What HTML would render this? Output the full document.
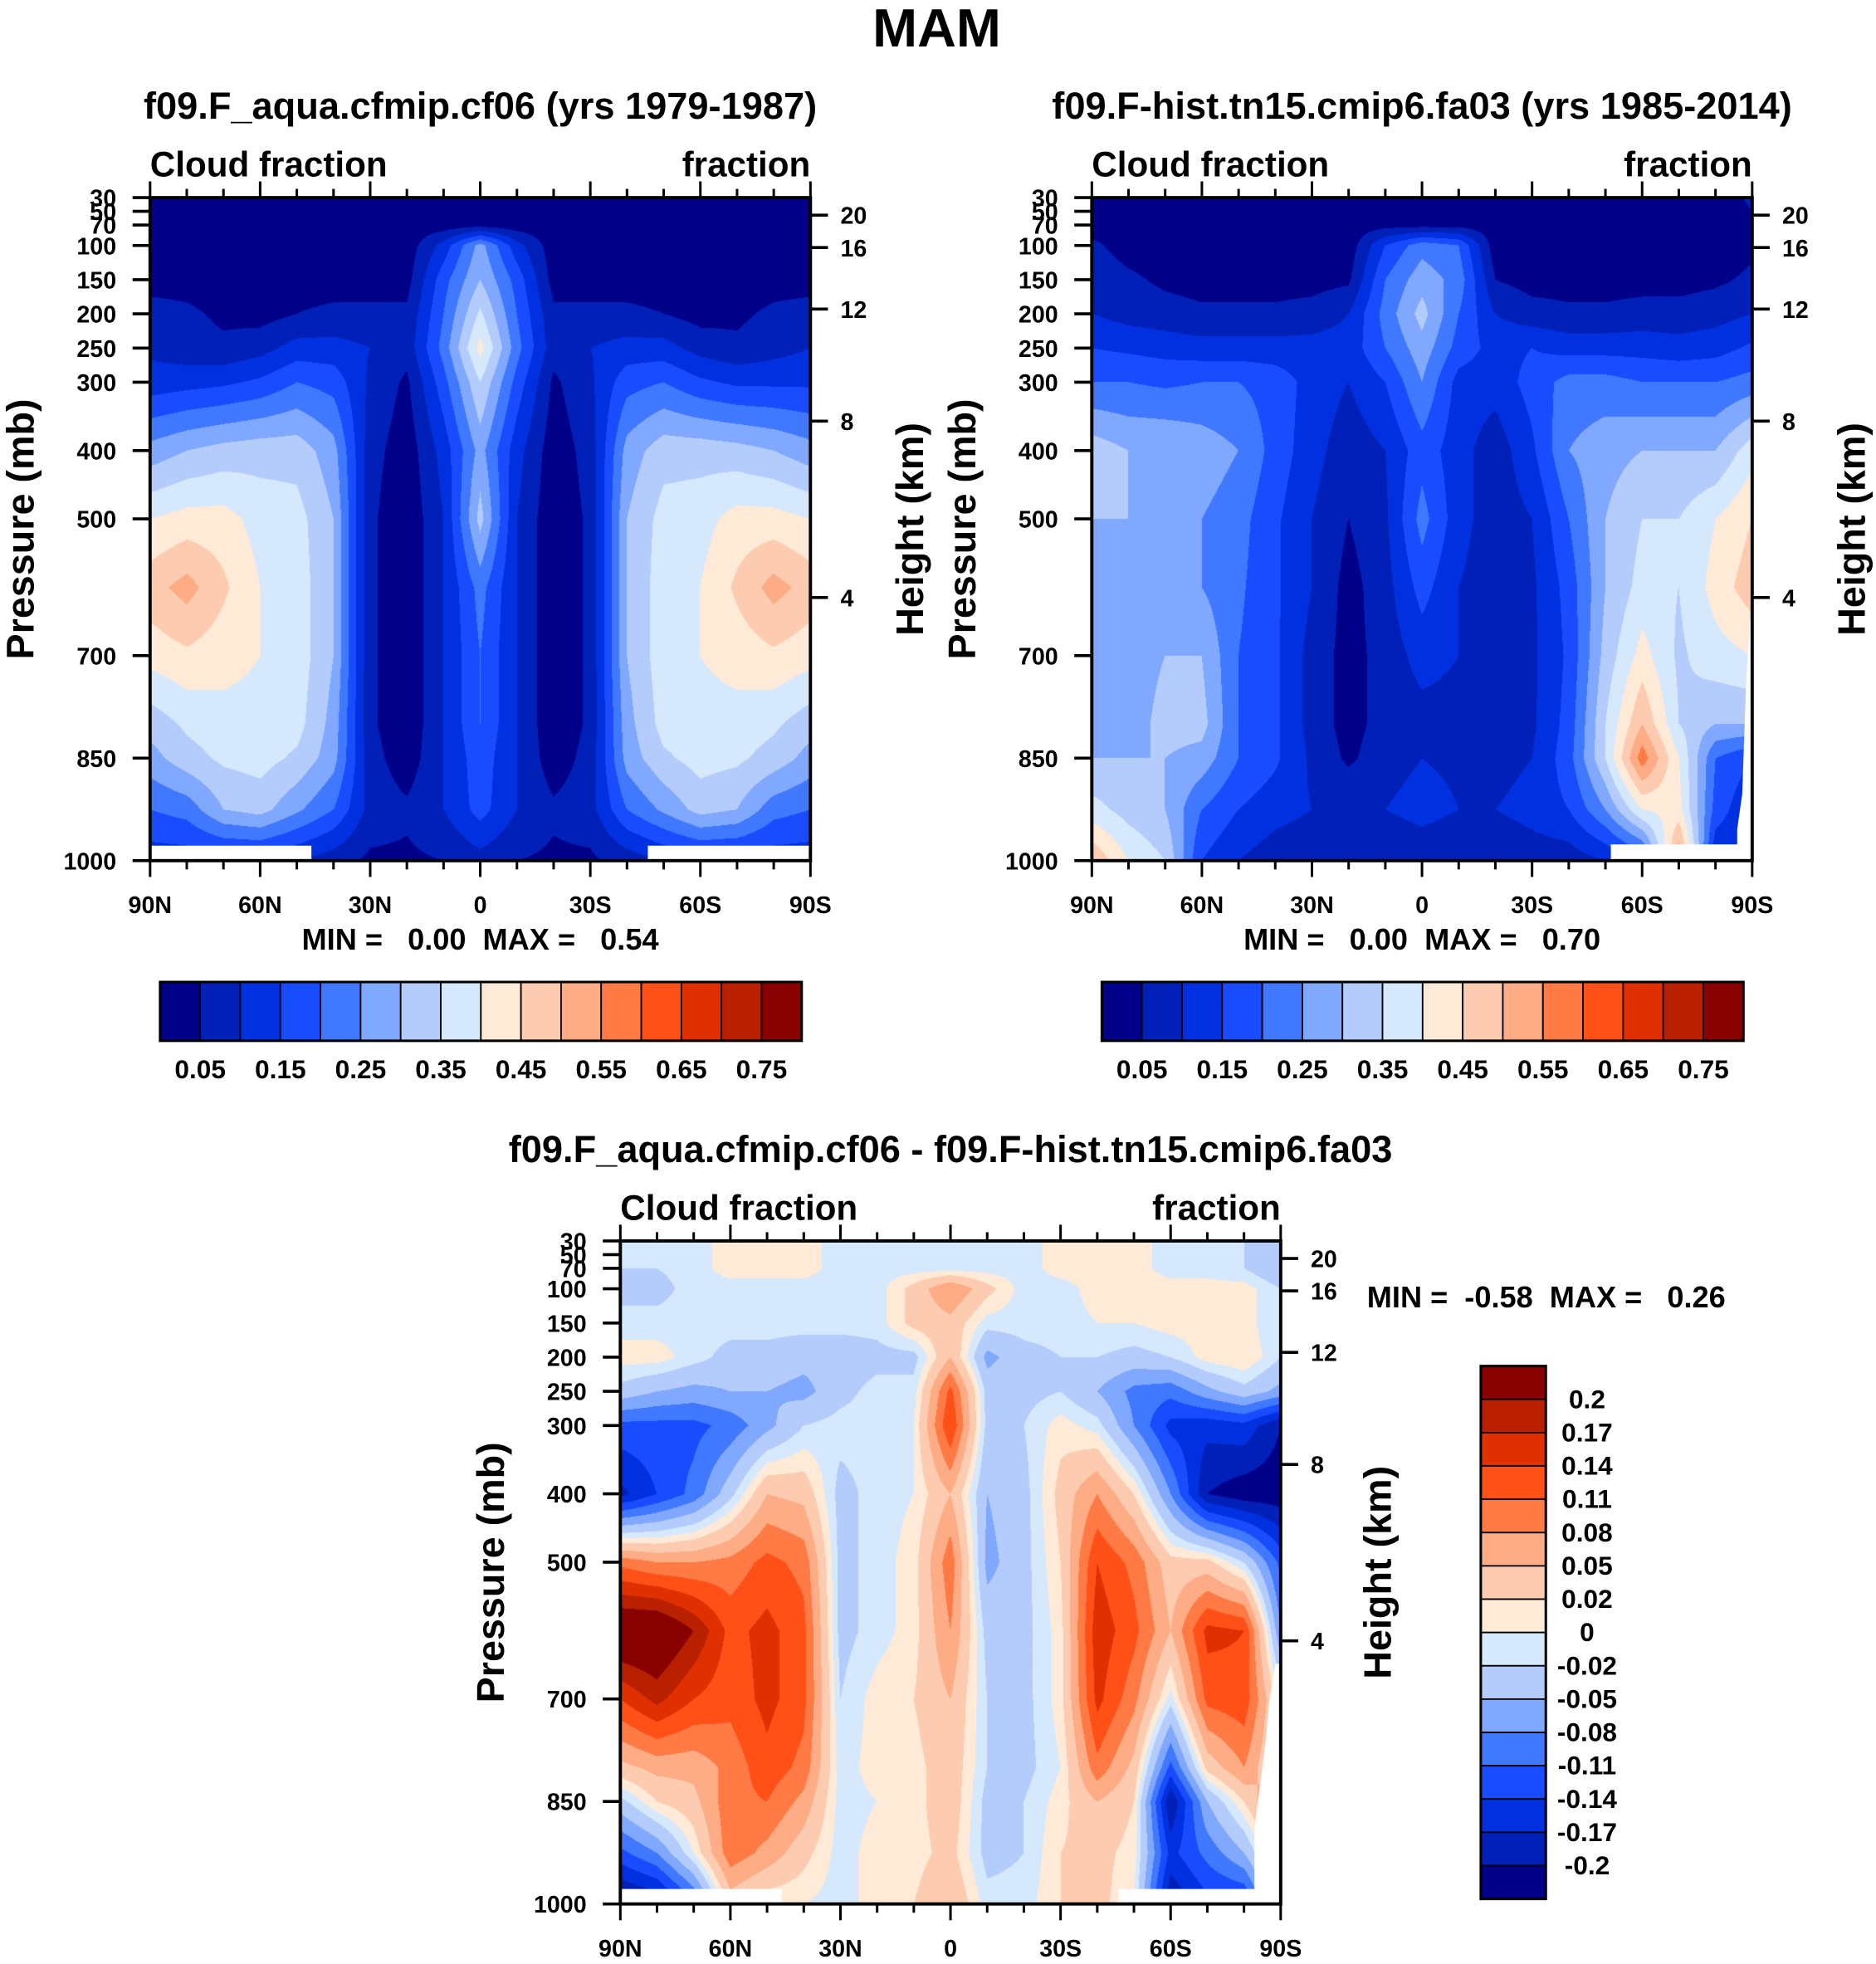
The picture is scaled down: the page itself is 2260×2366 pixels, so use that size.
<!DOCTYPE html>
<html><head><meta charset="utf-8">
<style>
html,body{margin:0;padding:0;background:#fff;}
#wrap{position:relative;width:2260px;height:2366px;overflow:hidden;}
#cv{position:absolute;left:0;top:0;}
#sv{position:absolute;left:0;top:0;}
text{font-family:"Liberation Sans",Arial,sans-serif;font-weight:bold;fill:#000;}
</style></head>
<body>
<div id="wrap">
<canvas id="cv" width="2260" height="2366"></canvas>
<svg id="sv" width="2260" height="2366" viewBox="0 0 1500 1570" preserveAspectRatio="none" xmlns="http://www.w3.org/2000/svg">
<g id="g"></g>
</svg>
</div>
<script>
// ---------- data ----------
const pLevels = [30,70,100,150,200,250,300,400,500,600,700,800,850,925,1000];
const latLabels = ['90N','60N','30N','0','30S','60S','90S'];
const pTickLabels = [30,50,70,100,150,200,250,300,400,500,700,850,1000];
const heightLabels = [20,16,12,8,4];
const heightP = [55.6,103,193,357,615];
const absLevels = [0.05,0.10,0.15,0.20,0.25,0.30,0.35,0.40,0.45,0.50,0.55,0.60,0.65,0.70,0.75];
const absTickLabels = ['0.05','0.15','0.25','0.35','0.45','0.55','0.65','0.75'];
const diffLevels = [-0.2,-0.17,-0.14,-0.11,-0.08,-0.05,-0.02,0,0.02,0.05,0.08,0.11,0.14,0.17,0.2];
const diffTickLabels = ['0.2','0.17','0.14','0.11','0.08','0.05','0.02','0','-0.02','-0.05','-0.08','-0.11','-0.14','-0.17','-0.2'];
const colors = ['#000088','#0020b8','#0030e0','#1a4cff','#4078ff','#80a8ff','#b4ccfc','#d6e8fc','#ffead8','#fdccb0','#fdac86','#ff7a44','#ff5018','#e03000','#b82000','#880000'];

// columns 90N -> 90S every 10 deg, values at pLevels
const cf06 = [
[.02,.02,.02,.03,.07,.09,.12,.27,.40,.48,.42,.32,.28,.20,.12],
[.02,.02,.02,.03,.06,.07,.13,.30,.42,.52,.44,.36,.33,.22,.12],
[.02,.02,.02,.02,.04,.06,.14,.32,.42,.46,.42,.38,.36,.30,.12],
[.02,.02,.02,.02,.03,.08,.16,.33,.38,.40,.40,.38,.37,.32,.12],
[.02,.02,.02,.03,.05,.12,.20,.33,.37,.38,.38,.37,.34,.26,.10],
[.02,.02,.02,.03,.06,.12,.18,.27,.30,.30,.30,.28,.27,.20,.07],
[.02,.02,.02,.03,.06,.10,.09,.07,.06,.06,.06,.06,.07,.08,.04],
[.02,.02,.02,.03,.06,.07,.04,.02,.01,.01,.01,.01,.02,.06,.04],
[.02,.02,.12,.18,.20,.22,.18,.12,.10,.10,.10,.10,.10,.10,.05],
[.02,.03,.27,.30,.36,.42,.35,.27,.32,.22,.20,.20,.18,.17,.08],
[.02,.02,.12,.18,.20,.22,.18,.12,.10,.10,.10,.10,.10,.10,.05],
[.02,.02,.02,.03,.06,.07,.04,.02,.01,.01,.01,.01,.02,.06,.04],
[.02,.02,.02,.03,.06,.10,.09,.07,.06,.06,.06,.06,.07,.08,.04],
[.02,.02,.02,.03,.06,.12,.18,.27,.30,.30,.30,.28,.27,.20,.07],
[.02,.02,.02,.03,.05,.12,.20,.33,.37,.38,.38,.37,.34,.26,.10],
[.02,.02,.02,.02,.03,.08,.16,.33,.38,.40,.40,.38,.37,.32,.12],
[.02,.02,.02,.02,.04,.06,.14,.32,.42,.46,.42,.38,.36,.30,.12],
[.02,.02,.02,.03,.06,.08,.14,.30,.42,.52,.44,.36,.33,.22,.12],
[.02,.02,.02,.03,.07,.10,.14,.27,.40,.48,.42,.32,.28,.20,.12]
];
const fa03 = [
[.02,.03,.06,.08,.10,.15,.20,.33,.30,.27,.27,.30,.30,.37,.50],
[.02,.02,.03,.06,.08,.14,.20,.30,.30,.27,.27,.27,.30,.33,.40],
[.02,.02,.02,.04,.07,.13,.19,.30,.28,.27,.30,.32,.30,.30,.35],
[.02,.02,.02,.03,.06,.12,.20,.28,.25,.25,.30,.32,.28,.20,.15],
[.02,.02,.02,.03,.06,.12,.20,.25,.22,.21,.20,.20,.20,.15,.10],
[.02,.02,.02,.03,.06,.12,.18,.18,.16,.16,.16,.16,.16,.12,.07],
[.02,.02,.02,.03,.07,.12,.13,.12,.10,.10,.08,.08,.09,.10,.06],
[.02,.02,.02,.04,.10,.12,.10,.07,.05,.03,.03,.03,.04,.10,.06],
[.02,.03,.15,.20,.22,.20,.15,.10,.09,.08,.07,.07,.08,.10,.05],
[.02,.03,.23,.28,.32,.28,.25,.18,.22,.17,.12,.08,.10,.12,.06],
[.02,.03,.20,.23,.20,.18,.13,.12,.12,.10,.10,.08,.09,.10,.05],
[.02,.02,.02,.05,.10,.13,.12,.07,.07,.07,.07,.07,.08,.10,.05],
[.02,.02,.02,.03,.07,.15,.17,.14,.10,.09,.09,.09,.10,.12,.07],
[.02,.02,.02,.03,.06,.13,.22,.25,.20,.17,.16,.17,.18,.15,.07],
[.02,.02,.02,.03,.06,.13,.22,.28,.30,.30,.32,.35,.35,.25,.10],
[.02,.02,.02,.03,.07,.13,.20,.30,.35,.37,.42,.50,.58,.40,.15],
[.02,.02,.02,.03,.07,.12,.20,.30,.35,.35,.34,.35,.40,.42,.55],
[.02,.02,.02,.04,.08,.13,.20,.30,.40,.42,.38,.30,.20,.18,.10],
[.06,.04,.04,.06,.10,.16,.22,.38,.45,.48,.40,.30,.15,.10,.10]
];
const diffData = [
[-.01,-.02,-.03,-.01,.01,-.03,-.12,-.18,.10,.25,.14,.04,-.03,-.12,-.22],
[-.01,-.02,-.03,-.01,.01,-.05,-.12,-.14,.08,.25,.18,.06,.02,-.08,-.20],
[-.01,-.01,-.01,-.01,-.01,-.06,-.12,-.10,.08,.20,.14,.06,.04,.00,-.12],
[.01,.01,-.01,-.01,-.03,-.05,-.10,-.03,.09,.13,.12,.09,.10,.10,.03],
[.01,.01,-.01,-.01,-.03,-.05,-.06,.05,.12,.15,.15,.13,.11,.07,.00],
[.01,.01,-.01,-.01,-.04,-.06,-.02,.04,.10,.12,.12,.10,.07,.03,.00],
[-.01,-.01,-.01,-.01,-.04,-.03,-.01,-.03,-.03,-.03,-.02,-.01,-.01,-.01,-.01],
[-.01,-.01,-.01,-.01,-.03,-.01,-.01,-.01,-.01,-.01,.01,.01,.00,.01,.01],
[-.01,-.01,.03,.03,-.03,-.01,.00,.00,.01,.01,.02,.01,.01,.01,.02],
[-.01,-.01,.08,.04,.05,.12,.14,.05,.10,.08,.05,.04,.04,.03,.05],
[-.01,-.01,.03,-.01,-.06,-.03,-.03,-.05,-.06,-.03,-.02,-.02,-.03,-.03,-.01],
[-.01,-.01,-.01,-.01,-.03,-.03,-.02,-.03,-.03,-.03,-.03,-.03,-.02,-.02,-.01],
[.01,.01,-.01,-.01,-.02,-.02,.01,.03,.02,.01,.01,.00,.01,.02,.02],
[.01,.01,.01,.00,-.02,-.05,-.01,.08,.14,.16,.15,.10,.05,.03,.03],
[.01,.01,.01,.00,-.03,-.09,-.08,.02,.10,.12,.09,.04,.02,.01,.00],
[-.01,-.01,.01,.01,-.02,-.10,-.15,-.08,.03,.05,-.01,-.12,-.20,-.15,-.20],
[-.01,-.01,.01,.01,.01,-.06,-.16,-.20,.03,.15,.12,.03,-.05,-.10,-.15],
[-.02,-.02,.01,.01,.02,-.03,-.15,-.22,-.02,.14,.13,.08,.02,-.05,-.15],
[-.03,-.05,-.02,-.02,-.02,-.06,-.20,-.22,-.12,-.08,.00,.00,.10,.05,.00]
];

// ---------- layout ----------
const PW = 528, PH = 530;
const panels = [
  {x:120, y:158, data:cf06, levels:absLevels, name:'panel-cf06'},
  {x:873, y:158, data:fa03, levels:absLevels, name:'panel-fa03'},
  {x:496, y:992, data:diffData, levels:diffLevels, name:'panel-diff'}
];
const SX = 2260/1500, SY = 2366/1570;
function xOfLat(i){ return i/18; }
function yOfP(p){ return (p-30)/970; }
function hexToRgb(h){ return [parseInt(h.substr(1,2),16),parseInt(h.substr(3,2),16),parseInt(h.substr(5,2),16)]; }
const rgb = colors.map(hexToRgb);
function levelIndex(v, levels){ let k=0; for(const L of levels){ if(v>=L) k++; } return k; }
function sample(data, fx, fy){
  const li = fx*18; let i0=Math.floor(li); if(i0>=18) i0=17; const tx=li-i0;
  const p = 30+fy*970;
  let j0=0; while(j0<pLevels.length-2 && pLevels[j0+1]<p) j0++;
  const ty=(p-pLevels[j0])/(pLevels[j0+1]-pLevels[j0]);
  const a=data[i0][j0], b=data[i0+1][j0], c=data[i0][j0+1], d=data[i0+1][j0+1];
  return (a*(1-tx)+b*tx)*(1-ty)+(c*(1-tx)+d*tx)*ty;
}
const cv=document.getElementById('cv'); const ctx=cv.getContext('2d');
const img=ctx.createImageData(2260,2366);
for(const P of panels){
  const x0=Math.round(P.x*SX), x1=Math.round((P.x+PW)*SX), y0=Math.round(P.y*SY), y1=Math.round((P.y+PH)*SY);
  for(let py=y0;py<y1;py++){
    const fy=(py-y0+0.5)/(y1-y0);
    for(let px=x0;px<x1;px++){
      const fx=(px-x0+0.5)/(x1-x0);
      const v=sample(P.data,fx,fy);
      const c=rgb[levelIndex(v,P.levels)];
      const o=(py*2260+px)*4; img.data[o]=c[0];img.data[o+1]=c[1];img.data[o+2]=c[2];img.data[o+3]=255;
    }
  }
}
ctx.putImageData(img,0,0);

// ---------- SVG ----------
const NS='http://www.w3.org/2000/svg';
const g=document.getElementById('g');
function el(tag, attrs, parent){ const e=document.createElementNS(NS,tag); for(const k in attrs) e.setAttribute(k,attrs[k]); (parent||g).appendChild(e); return e; }
function txt(s,x,y,size,anchor,parent,rot){ const t=el('text',{x:x,y:y,'font-size':size,'text-anchor':anchor||'middle'},parent); if(rot) t.setAttribute('transform','rotate(-90 '+x+' '+y+')'); t.textContent=s; return t; }

let t=txt('MAM',749,37,43,'middle');



const titles=['f09.F_aqua.cfmip.cf06 (yrs 1979-1987)','f09.F-hist.tn15.cmip6.fa03 (yrs 1985-2014)','f09.F_aqua.cfmip.cf06 - f09.F-hist.tn15.cmip6.fa03'];
const minmax=['MIN =   0.00  MAX =   0.54','MIN =   0.00  MAX =   0.70','MIN =  -0.58  MAX =   0.26'];

panels.forEach((P,pi)=>{
  const grp=el('g',{});
  
  
  const X=P.x, Y=P.y;
  const wm=[];
  if(pi===0){ wm.push([[X,Y+518],[X+129,Y+518],[X+129,Y+PH],[X,Y+PH]]); wm.push([[X+398,Y+518],[X+PW,Y+518],[X+PW,Y+PH],[X+398,Y+PH]]); }
  if(pi===1){ wm.push([[X+415,Y+517],[X+PW,Y+517],[X+PW,Y+PH],[X+415,Y+PH]]); wm.push([[X+PW,Y+338],[X+PW-2,Y+338],[X+PW-5,Y+392],[X+PW-8,Y+477],[X+PW-12,Y+505],[X+PW-12,Y+PH],[X+PW,Y+PH]]); }
  if(pi===2){ wm.push([[X,Y+518],[X+129,Y+518],[X+129,Y+PH],[X,Y+PH]]); wm.push([[X+398,Y+518],[X+PW,Y+518],[X+PW,Y+PH],[X+398,Y+PH]]); wm.push([[X+PW,Y+338],[X+PW-4,Y+338],[X+PW-9,Y+367],[X+PW-12,Y+400],[X+PW-21,Y+470],[X+PW-21,Y+PH],[X+PW,Y+PH]]); }
  wm.forEach(poly=>{ const m=el('polygon',{points:poly.map(p=>p.join(',')).join(' '),fill:'#fff'},grp);
    
     });
  const fr=el('rect',{x:X,y:Y,width:PW,height:PH,fill:'none',stroke:'#000','stroke-width':2.6},grp);
  
  
  for(let i=0;i<=18;i++){
    const xx=X+xOfLat(i)*PW, L=(i%3===0)?13:7;
    el('line',{x1:xx,y1:Y,x2:xx,y2:Y-L,stroke:'#000','stroke-width':2},grp);
    el('line',{x1:xx,y1:Y+PH,x2:xx,y2:Y+PH+L,stroke:'#000','stroke-width':2},grp);
  }
  latLabels.forEach((s,k)=>{ const tl=txt(s,X+xOfLat(k*3)*PW,Y+PH+42,19,'middle',grp);
    
     });
  pTickLabels.forEach(p=>{ const yy=Y+yOfP(p)*PH;
    el('line',{x1:X,y1:yy,x2:X-14,y2:yy,stroke:'#000','stroke-width':2.4},grp);
    const tl=txt(String(p),X-27,yy+7,19,'end',grp);
    
     });
  heightLabels.forEach((h,k)=>{ const yy=Y+yOfP(heightP[k])*PH;
    el('line',{x1:X+PW,y1:yy,x2:X+PW+14,y2:yy,stroke:'#000','stroke-width':2.4},grp);
    const tl=txt(String(h),X+PW+24,yy+7,19,'start',grp);
    
     });
  const tt=txt(titles[pi], pi===2?760:X+PW/2, Y-63, 30,'middle',grp);
  
  
  const l1=txt('Cloud fraction',X,Y-17,28,'start',grp);
  
  
  const l2=txt('fraction',X+PW,Y-17,28,'end',grp);
  
  
  const ya=txt('Pressure (mb)',X-93,Y+PH/2,31,'middle',grp,true);
  
  
  const ha=txt('Height (km)',pi===2?X+PW+88:X+PW+90,Y+PH/2,31,'middle',grp,true);
  
  
  let mm;
  if(pi<2){ mm=txt(minmax[pi],X+PW/2,Y+601,24,'middle',grp); }
  else { mm=txt(minmax[pi],1093,1045,24,'start',grp); }
  mm.setAttribute('xml:space','preserve'); mm.style.whiteSpace='pre';
  
  
});

[128,881].forEach(cx=>{
  const grp=el('g',{});
  
  
  const bw=513/16;
  colors.forEach((c,i)=>{ const r=el('rect',{x:cx+i*bw,y:785,width:bw,height:47,fill:c,stroke:'#000','stroke-width':1.2},grp);
    
     });
  el('rect',{x:cx,y:785,width:513,height:47,fill:'none',stroke:'#000','stroke-width':2},grp);
  absTickLabels.forEach((s,k)=>{ const tl=txt(s,cx+(2*k+1)*bw,862,21,'middle',grp);
    
     });
});
{
  const grp=el('g',{});
  
  
  const bh=(1518-1092)/16;
  colors.slice().reverse().forEach((c,i)=>{ const r=el('rect',{x:1184,y:1092+i*bh,width:52,height:bh,fill:c,stroke:'#000','stroke-width':1.2},grp);
    
     });
  el('rect',{x:1184,y:1092,width:52,height:426,fill:'none',stroke:'#000','stroke-width':2},grp);
  diffTickLabels.forEach((s,k)=>{ const tl=txt(s,1269,1092+(k+1)*bh+7,21,'middle',grp);
    
     });
}
</script>
</body></html>
